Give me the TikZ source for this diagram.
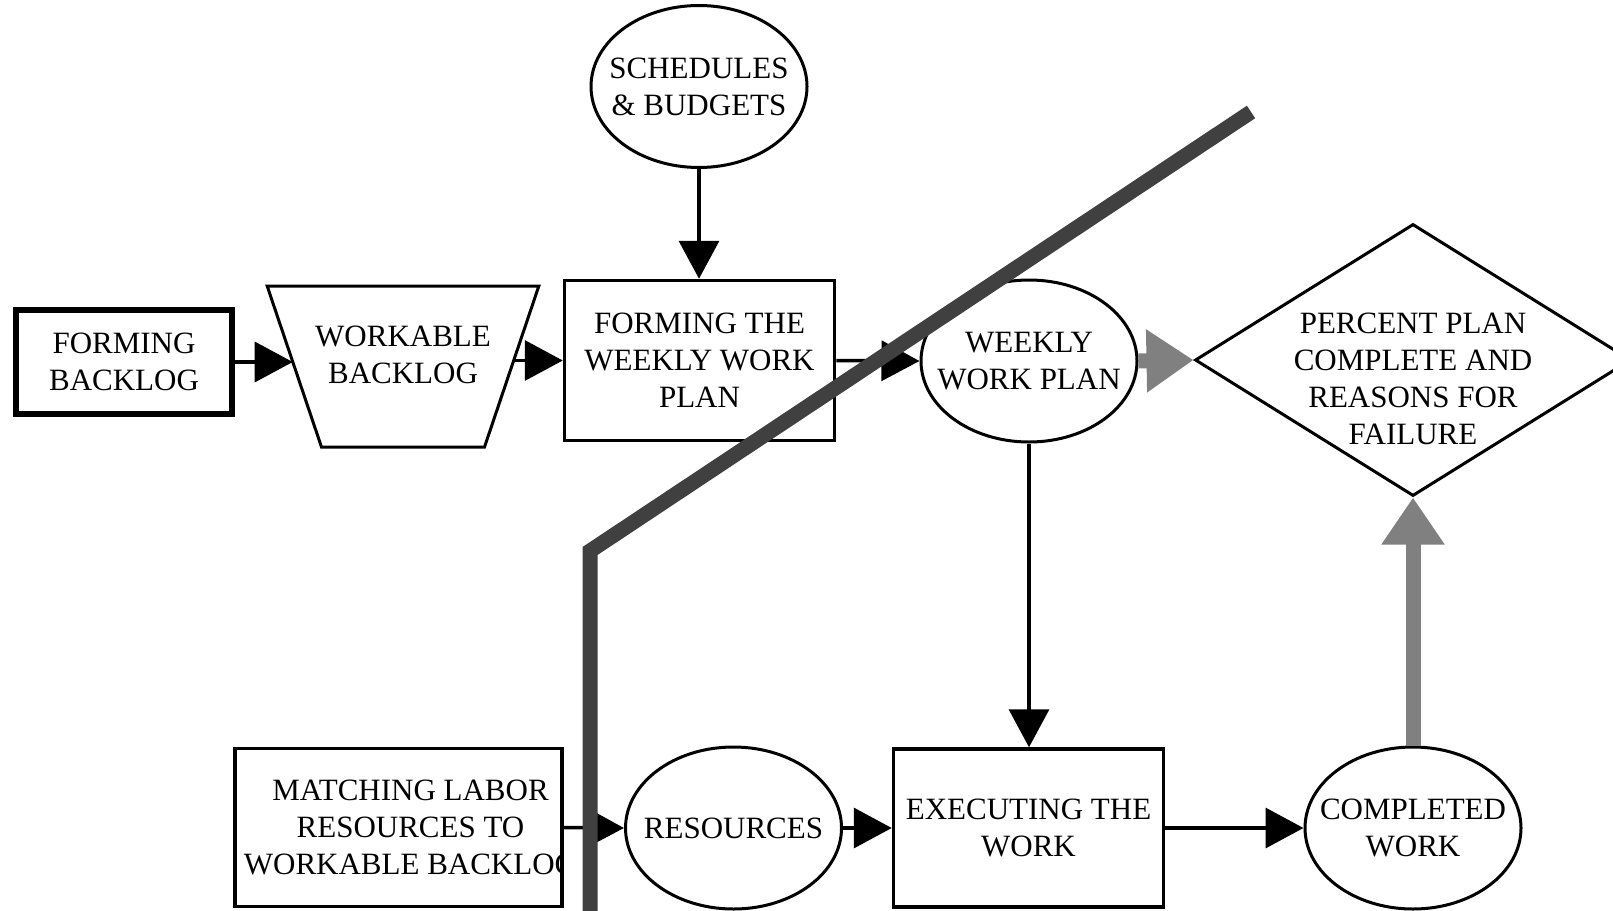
\documentclass[tikz,border=0pt]{standalone}
\usepackage{fontspec}
\setmainfont{Liberation Serif}
\usetikzlibrary{shapes.geometric, arrows.meta, positioning}
\definecolor{midgray}{RGB}{128,128,128}
\definecolor{cutgray}{RGB}{64,64,64}
\tikzset{
	x=1pt, y=-1pt, % one unit is one pixel, origin at the top left
	every node/.style={font=\fontsize{31}{37}\selectfont, align=center}, % text of every node
	procbox/.style={draw, line width=3.5pt, inner sep=0pt}, % the rectangular steps
	ovalnode/.style={ellipse, draw, line width=3pt, minimum width=216pt, minimum height=162pt, inner sep=-20pt}, % the ovals
	flowarrow/.style={line width=3.5pt, -{Triangle[length=38pt,width=40pt]}}, % black arrows
	grayarrow/.style={draw=midgray, line width=15pt, -{Triangle[length=47pt,width=60pt]}}, % feedback arrows
	cutline/.style={draw=cutgray, line width=15pt, line join=miter}, % the thick dividing line
}
\begin{document}
\begin{tikzpicture}
	\useasboundingbox (0,0) rectangle (1613,910);
	\node[procbox, line width=6pt, minimum width=216pt, minimum height=104pt] (fb) at (124,362) {FORMING\\BACKLOG};
	\node[trapezium, draw, line width=3pt, shape border rotate=180, trapezium stretches=true,
		trapezium left angle=71.57, trapezium right angle=71.57, inner sep=40pt,
		minimum width=272pt, minimum height=161pt,
		label={[yshift=11.5pt]center:{WORKABLE\\BACKLOG}}] (wb) at (403,366.5) {};
	\node[procbox, minimum width=270pt, minimum height=160pt] (fwp) at (699.5,360.5) {FORMING THE\\WEEKLY WORK\\PLAN};
	\node[ovalnode] (sb) at (699,86.5) {SCHEDULES\\\& BUDGETS};
	\node[ovalnode] (wwp) at (1029,361) {WEEKLY\\WORK PLAN};
	\node[diamond, draw, line width=3pt, inner sep=0pt, minimum width=436pt, minimum height=272pt,
		label={[yshift=-19pt]center:{PERCENT PLAN\\COMPLETE AND\\REASONS FOR\\FAILURE}}] (ppc) at (1413,360) {};
	\node[procbox, minimum width=327pt, minimum height=158pt] (mlr) at (398.5,827.5) {};
	\begin{scope}
		\clip (mlr.north west) rectangle (mlr.south east);
		\node[xshift=12pt] (mlrtext) at (mlr.center) {MATCHING LABOR\\RESOURCES TO\\WORKABLE BACKLOG};
	\end{scope}
	\node[ovalnode] (res) at (733.5,828) {RESOURCES};
	\node[procbox, minimum width=270pt, minimum height=158pt] (exe) at (1028.5,828) {EXECUTING THE\\WORK};
	\node[ovalnode] (cw) at (1413,828) {COMPLETED\\WORK};

	\draw[flowarrow] (sb.south) -- (sb.south |- fwp.north);
	\draw[flowarrow] (fb.east) -- (fb.east -| wb.west);
	\draw[flowarrow] (fwp.west -| wb.east) -- (fwp.west);
	\draw[flowarrow] (fwp.east) -- (wwp.west);
	\draw[flowarrow] (wwp.south) -- (wwp.south |- exe.north);
	\draw[flowarrow] (mlr.east) -- (res.west);
	\draw[flowarrow] (res.east) -- (exe.west);
	\draw[flowarrow] (exe.east) -- (cw.west);
	\draw[grayarrow] (wwp.east) -- (ppc.west);
	\draw[grayarrow] (cw.north) -- (ppc.south);

	% dividing line, drawn last so it lies on top
	\coordinate (cuttop) at (1251,112);
	\coordinate (cutbend) at (590,551);
	\coordinate (cutend) at (590,920);
	\draw[cutline] (cuttop) -- (cutbend) -- (cutend);
\end{tikzpicture}
\end{document}
